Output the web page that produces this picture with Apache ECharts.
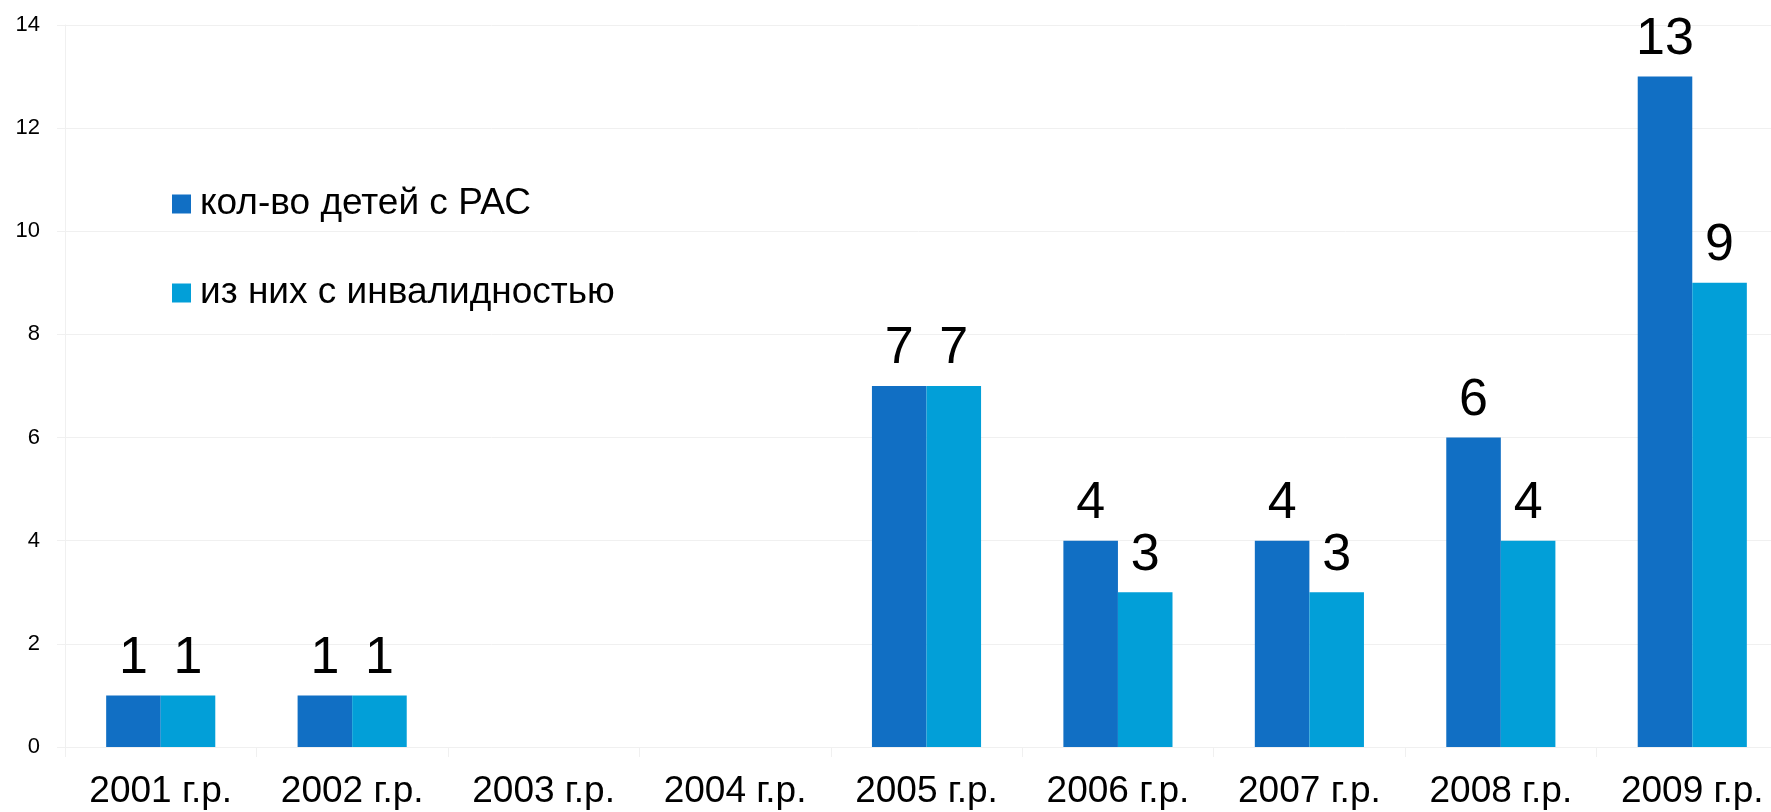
<!DOCTYPE html>
<html>
<head>
    <meta charset="UTF-8">
    <title>Дети с РАС</title>
    <script src="https://cdn.jsdelivr.net/npm/echarts/dist/echarts.min.js"></script>
    <style>
        html, body { margin: 0; padding: 0; background: #fff; }
        #chart { width: 1771px; height: 812px; }
    </style>
</head>
<body>
    <div id="chart"></div>
    <script>
        // данные
        var years = ['2001 г.р.', '2002 г.р.', '2003 г.р.', '2004 г.р.', '2005 г.р.', '2006 г.р.', '2007 г.р.', '2008 г.р.', '2009 г.р.'];
        var kidsRAS = [1, 1, 0, 0, 7, 4, 4, 6, 13];
        var withDisability = [1, 1, 0, 0, 7, 3, 3, 4, 9];
        var seriesNames = ['кол-во детей с РАС', 'из них с инвалидностью'];
        var colors = ['#116FC4', '#029FD8'];

        var font = 'Liberation Sans, Arial, sans-serif';
        var faint = '#f0f0f0';

        function barLabel() {
            return {
                show: true,
                position: 'top',
                distance: 11,
                fontSize: 52,
                fontFamily: font,
                color: '#000',
                formatter: function (p) { return p.value ? p.value : ''; }
            };
        }

        var chart = echarts.init(document.getElementById('chart'));
        chart.setOption({
            animation: false,
            textStyle: { fontFamily: font },
            // последняя категория уходит за правый край картинки
            grid: { left: 65, width: 1723, top: 25, bottom: 65, containLabel: false, outerBoundsMode: 'none' },
            legend: {
                orient: 'vertical',
                left: 172,
                top: 184,
                padding: 0,
                icon: 'rect',
                itemWidth: 19,
                itemHeight: 19,
                itemGap: 49,
                textStyle: { fontSize: 37, color: '#000', fontFamily: font, lineHeight: 40, padding: [0, 0, 0, 4] },
                data: seriesNames
            },
            xAxis: {
                type: 'category',
                data: years,
                axisLine: { lineStyle: { color: faint } },
                axisTick: { show: true, length: 10, lineStyle: { color: faint } },
                axisLabel: { fontSize: 37, color: '#000', margin: 26, fontFamily: font, interval: 0 }
            },
            yAxis: {
                type: 'value',
                min: 0,
                max: 14,
                interval: 2,
                axisLine: { show: true, lineStyle: { color: faint } },
                axisTick: { show: true, length: 8, lineStyle: { color: faint } },
                splitLine: { lineStyle: { color: faint } },
                axisLabel: { fontSize: 22, color: '#000', margin: 25, fontFamily: font }
            },
            series: [
                {
                    name: seriesNames[0],
                    type: 'bar',
                    data: kidsRAS,
                    itemStyle: { color: colors[0] },
                    barGap: '0%',
                    barCategoryGap: '43%',
                    label: barLabel()
                },
                {
                    name: seriesNames[1],
                    type: 'bar',
                    data: withDisability,
                    itemStyle: { color: colors[1] },
                    label: barLabel()
                }
            ]
        });
    </script>
</body>
</html>
